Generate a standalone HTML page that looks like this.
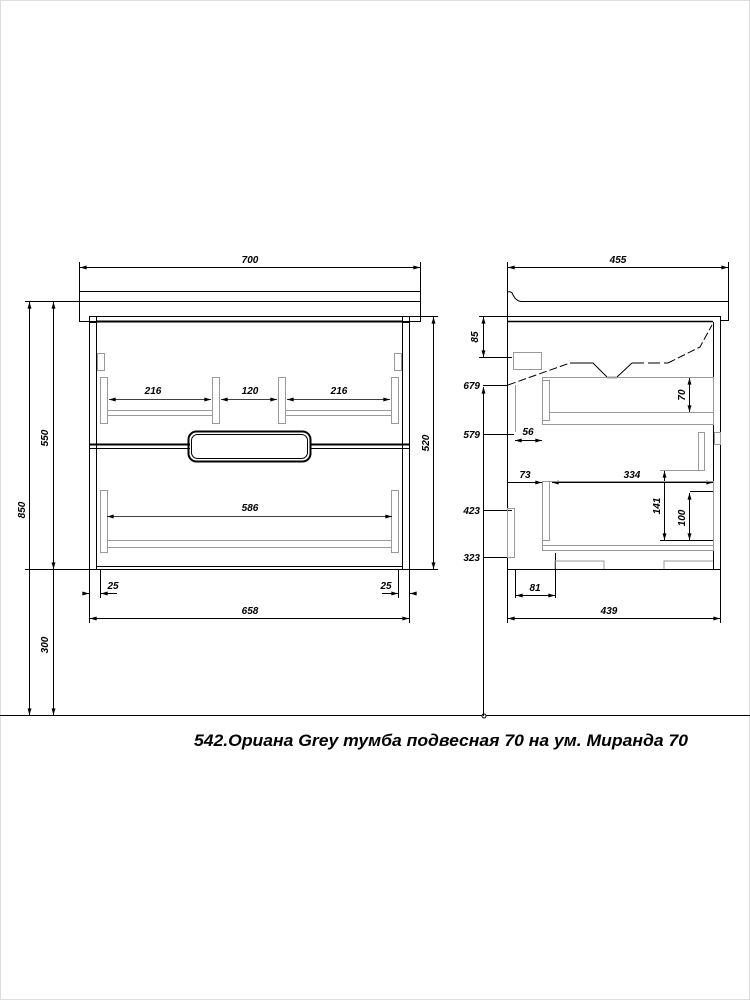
<!DOCTYPE html>
<html><head><meta charset="utf-8"><style>
html,body{margin:0;padding:0;background:#fff;}
svg{display:block;}
text{font-family:"Liberation Sans",sans-serif;font-weight:bold;font-style:italic;fill:#000;}
</style></head><body>
<svg width="750" height="1000" viewBox="0 0 750 1000" xmlns="http://www.w3.org/2000/svg">
<defs>
<marker id="a" viewBox="0 0 10 6" refX="10" refY="3" markerWidth="7" markerHeight="4" orient="auto-start-reverse" markerUnits="userSpaceOnUse"><path d="M0,0L10,3L0,6z" fill="#000"/></marker>
</defs>
<rect x="0.5" y="0.5" width="749" height="999" fill="none" stroke="#ddd"/>
<g stroke="#000" stroke-width="1" fill="none">
<line x1="0" y1="715.5" x2="750" y2="715.5"/>
<circle cx="484" cy="716" r="2" fill="#fff"/>
<line x1="25" y1="301.5" x2="79" y2="301.5"/>
<line x1="25" y1="569.5" x2="89" y2="569.5"/>
<line x1="29.5" y1="302" x2="29.5" y2="715" marker-start="url(#a)" marker-end="url(#a)"/>
<line x1="53.5" y1="302" x2="53.5" y2="569" marker-start="url(#a)" marker-end="url(#a)"/>
<line x1="53.5" y1="569" x2="53.5" y2="715" marker-end="url(#a)"/>
<line x1="79.5" y1="262" x2="79.5" y2="292"/><line x1="420.5" y1="262" x2="420.5" y2="292"/>
<line x1="80" y1="267.5" x2="420" y2="267.5" marker-start="url(#a)" marker-end="url(#a)"/>
<rect x="79.5" y="291.5" width="341" height="30"/>
<line x1="79" y1="301.5" x2="420" y2="301.5"/>
<rect x="89.5" y="316.5" width="320" height="253"/>
<rect x="89.5" y="316.5" width="7" height="6"/><rect x="402.5" y="316.5" width="7" height="6"/>
<line x1="96.5" y1="322" x2="96.5" y2="569"/><line x1="402.5" y1="322" x2="402.5" y2="569"/>
<line x1="96" y1="321.5" x2="403" y2="321.5" stroke-width="2"/>
<line x1="89" y1="444.5" x2="190" y2="444.5" stroke-width="2"/><line x1="310" y1="444.5" x2="409" y2="444.5" stroke-width="2"/>
<line x1="89" y1="448.5" x2="190" y2="448.5"/><line x1="310" y1="448.5" x2="409" y2="448.5"/>
<rect x="188.5" y="431.5" width="122" height="30" rx="8" stroke-width="2"/>
<rect x="191.5" y="434.5" width="116" height="24" rx="6"/>
<line x1="96" y1="566.5" x2="403" y2="566.5"/>
<line x1="410" y1="316.5" x2="438" y2="316.5"/><line x1="410" y1="569.5" x2="438" y2="569.5"/>
<line x1="433.5" y1="317" x2="433.5" y2="569" marker-start="url(#a)" marker-end="url(#a)"/>
<line x1="89.5" y1="570" x2="89.5" y2="623"/><line x1="409.5" y1="570" x2="409.5" y2="623"/>
<line x1="100.5" y1="570" x2="100.5" y2="598"/><line x1="398.5" y1="570" x2="398.5" y2="598"/>
<line x1="83" y1="593.5" x2="89" y2="593.5" marker-end="url(#a)"/><line x1="117" y1="593.5" x2="101" y2="593.5" marker-end="url(#a)"/>
<line x1="382" y1="593.5" x2="398" y2="593.5" marker-end="url(#a)"/><line x1="416" y1="593.5" x2="410" y2="593.5" marker-end="url(#a)"/>
<line x1="90" y1="618.5" x2="409" y2="618.5" marker-start="url(#a)" marker-end="url(#a)"/>
</g>
<g stroke="#999" stroke-width="1" fill="none">
<rect x="97.5" y="353.5" width="7" height="17"/><rect x="394.5" y="353.5" width="7" height="17"/>
<rect x="100.5" y="377.5" width="7" height="46"/><rect x="212.5" y="377.5" width="7" height="46"/>
<rect x="278.5" y="377.5" width="7" height="46"/><rect x="391.5" y="377.5" width="7" height="46"/>
<line x1="108" y1="410.5" x2="212" y2="410.5"/><line x1="108" y1="415.5" x2="212" y2="415.5"/>
<line x1="286" y1="410.5" x2="391" y2="410.5"/><line x1="286" y1="415.5" x2="391" y2="415.5"/>
<rect x="100.5" y="490.5" width="7" height="62"/><rect x="391.5" y="490.5" width="7" height="62"/>
<line x1="108" y1="540.5" x2="391" y2="540.5"/><line x1="108" y1="547.5" x2="391" y2="547.5"/>
</g>
<g stroke="#000" stroke-width="0.8" fill="none">
<line x1="109" y1="399.5" x2="211" y2="399.5" marker-start="url(#a)" marker-end="url(#a)"/>
<line x1="221" y1="399.5" x2="277" y2="399.5" marker-start="url(#a)" marker-end="url(#a)"/>
<line x1="287" y1="399.5" x2="390" y2="399.5" marker-start="url(#a)" marker-end="url(#a)"/>
<line x1="107" y1="516.5" x2="392" y2="516.5" marker-start="url(#a)" marker-end="url(#a)"/>
</g>
<g font-size="10" text-anchor="middle">
<text x="250" y="263">700</text>
<text x="153" y="394">216</text><text x="250" y="394">120</text><text x="339" y="394">216</text>
<text x="250" y="511">586</text>
<text x="113" y="589">25</text><text x="386" y="589">25</text>
<text x="250" y="614">658</text>
<text x="618" y="263">455</text>
<text transform="translate(429,443) rotate(-90)">520</text>
<text transform="translate(25,510) rotate(-90)">850</text>
<text transform="translate(48,438) rotate(-90)">550</text>
<text transform="translate(48,645) rotate(-90)">300</text>
</g>
<g stroke="#000" stroke-width="1" fill="none">
<line x1="507.5" y1="262" x2="507.5" y2="292"/><line x1="728.5" y1="262" x2="728.5" y2="292"/>
<line x1="508" y1="267.5" x2="728" y2="267.5" marker-start="url(#a)" marker-end="url(#a)"/>
<path d="M507.5,316 V292 Q512,291 513,295 Q516,301 521,301.5 H728.5 V320.5 H720"/>
<line x1="728.5" y1="292" x2="728.5" y2="301"/>
<rect x="507.5" y="316.5" width="213" height="253"/>
<line x1="508" y1="321.5" x2="713" y2="321.5" stroke-width="1.5"/>
<line x1="713.5" y1="322" x2="713.5" y2="569"/>
<path d="M508,385 L570,363" stroke-dasharray="8,3"/>
<path d="M570,363 H593 L607,377 M617,377 L632,363"/>
<path d="M632,363 H668" stroke-dasharray="12,4"/>
<path d="M668,363 L700,347 L712,325" stroke-dasharray="8,3"/>
<line x1="479" y1="316.5" x2="507" y2="316.5"/>
<line x1="483.5" y1="317" x2="483.5" y2="357" marker-start="url(#a)" marker-end="url(#a)"/>
<line x1="479" y1="357.5" x2="512" y2="357.5"/>
<line x1="483.5" y1="387" x2="483.5" y2="716" marker-start="url(#a)"/>
<line x1="483" y1="385.5" x2="507" y2="385.5"/>
<line x1="483" y1="434.5" x2="514" y2="434.5"/>
<line x1="483" y1="510.5" x2="512" y2="510.5"/>
<line x1="483" y1="557.5" x2="512" y2="557.5"/>
<line x1="690" y1="377.5" x2="713" y2="377.5"/><line x1="690" y1="412.5" x2="713" y2="412.5"/>
<line x1="689.5" y1="378" x2="689.5" y2="412" marker-start="url(#a)" marker-end="url(#a)"/>
<line x1="515" y1="440.5" x2="542" y2="440.5" marker-start="url(#a)" marker-end="url(#a)"/>
<line x1="508" y1="482.5" x2="542" y2="482.5" marker-end="url(#a)"/>
<line x1="552" y1="482.5" x2="713" y2="482.5" marker-start="url(#a)" marker-end="url(#a)"/>
<line x1="713.5" y1="475" x2="713.5" y2="491"/>
<line x1="664.5" y1="471" x2="664.5" y2="540" marker-start="url(#a)" marker-end="url(#a)"/>
<line x1="689.5" y1="493" x2="689.5" y2="540" marker-start="url(#a)" marker-end="url(#a)"/>
<line x1="660" y1="540.5" x2="713" y2="540.5"/>
<line x1="690" y1="491.5" x2="713" y2="491.5"/>
<line x1="515.5" y1="570" x2="515.5" y2="598"/><line x1="555.5" y1="553" x2="555.5" y2="598"/>
<line x1="516" y1="595.5" x2="555" y2="595.5" marker-start="url(#a)" marker-end="url(#a)"/>
<line x1="507.5" y1="570" x2="507.5" y2="623"/><line x1="720.5" y1="570" x2="720.5" y2="623"/>
<line x1="508" y1="618.5" x2="720" y2="618.5" marker-start="url(#a)" marker-end="url(#a)"/>
</g>
<g stroke="#999" stroke-width="1" fill="none">
<rect x="513.5" y="352.5" width="28" height="17"/>
<line x1="607" y1="377.5" x2="617" y2="377.5" stroke-width="2"/>
<rect x="542.5" y="377.5" width="171" height="47"/>
<rect x="542.5" y="380.5" width="7" height="40"/>
<line x1="550" y1="412.5" x2="713" y2="412.5"/>
<line x1="515.5" y1="385" x2="515.5" y2="432"/>
<rect x="698.5" y="432.5" width="6" height="38"/>
<line x1="660" y1="470.5" x2="704" y2="470.5"/>
<rect x="542.5" y="481.5" width="171" height="69"/>
<rect x="542.5" y="481.5" width="7" height="59"/>
<line x1="542" y1="545.5" x2="713" y2="545.5"/>
<rect x="507.5" y="508.5" width="7" height="49"/>
<path d="M555,569 V561 H604 V569 M664,569 V561 H713"/>
<rect x="714.5" y="432.5" width="6" height="12"/>
</g>
<g font-size="10" text-anchor="end">
<text x="480" y="389">679</text>
<text x="480" y="438">579</text>
<text x="480" y="514">423</text>
<text x="480" y="561">323</text>
</g>
<g font-size="10" text-anchor="middle">
<text transform="translate(478,337) rotate(-90)">85</text>
<text transform="translate(685,395) rotate(-90)">70</text>
<text transform="translate(660,506) rotate(-90)">141</text>
<text transform="translate(685,518) rotate(-90)">100</text>
<text x="528" y="435">56</text>
<text x="525" y="478">73</text>
<text x="632" y="478">334</text>
<text x="535" y="591">81</text>
<text x="609" y="614">439</text>
</g>
<text x="194" y="746" font-size="17" textLength="494" lengthAdjust="spacingAndGlyphs">542.Ориана Grey тумба подвесная 70 на ум. Миранда 70</text>
</svg>
</body></html>
